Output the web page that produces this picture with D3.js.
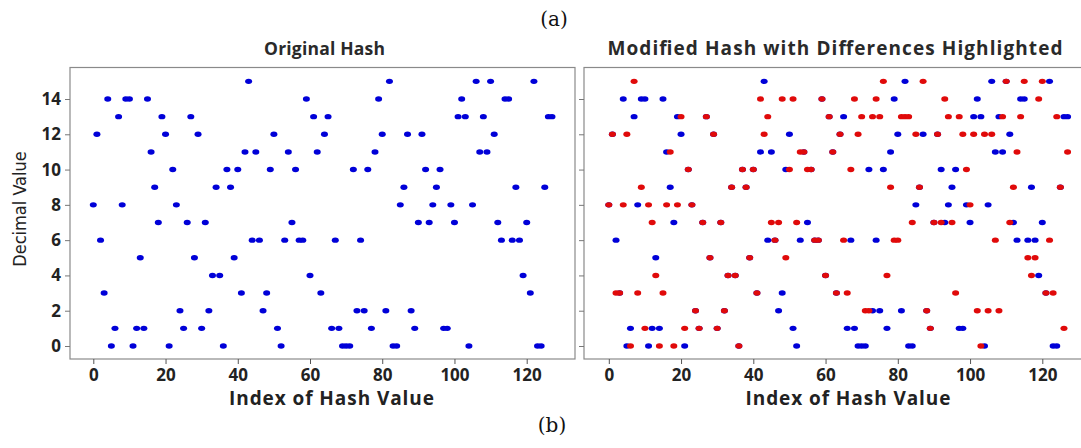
<!DOCTYPE html>
<html><head><meta charset="utf-8">
<script src="https://cdn.jsdelivr.net/npm/d3@7"></script>
<style>
body{margin:0;background:#fff;}
svg{display:block;}
text{font-family:"Open Sans","DejaVu Sans",sans-serif;}
</style></head>
<body>
<svg id="chart" width="1081" height="448"></svg>
<script>
// ---- data ----
const originalHash = [8,12,6,3,14,0,1,13,8,14,14,0,1,5,1,14,11,9,7,13,12,0,10,8,2,1,7,13,5,12,1,7,2,4,9,4,0,10,9,5,10,3,11,15,6,11,6,2,3,10,12,1,0,6,11,7,10,6,6,14,4,13,11,3,12,13,1,6,1,0,0,0,10,2,6,2,10,1,11,14,12,2,15,0,0,8,9,12,2,1,7,12,10,7,8,9,10,1,1,8,7,13,14,13,0,8,15,11,13,11,15,12,7,6,14,14,6,9,6,4,7,3,15,0,0,9,13,13];
const modifiedHash = [8,12,3,3,8,12,0,15,3,9,1,8,7,4,0,3,8,11,0,8,13,1,10,8,2,1,7,13,5,12,1,7,2,4,9,4,0,10,9,5,10,3,14,12,13,7,6,7,14,5,10,14,7,11,11,10,10,6,6,14,4,13,11,3,12,6,3,10,14,12,13,2,2,13,14,13,15,4,9,6,6,13,13,13,7,12,9,15,2,1,7,12,7,14,13,7,3,13,12,10,8,12,2,0,12,2,12,6,2,13,15,7,9,11,13,15,5,4,5,14,15,3,6,3,13,9,1,11];
const xTicks = [0,20,40,60,80,100,120];
const yTicks = [0,2,4,6,8,10,12,14];
const titles = ["Original Hash","Modified Hash with Differences Highlighted"];
const xLabel = "Index of Hash Value";
const yLabel = "Decimal Value";

// ---- drawing ----
const svg = d3.select("#chart");
const BLUE = "#0000d8", RED = "#e00a0a";
const y = d3.scaleLinear().domain([0,14]).range([346,99]);
const plotTop = 67.5, plotBottom = 359;

const panels = [
  {x0:70, x1:575, range:[93.3,526.7], title:titles[0], labels:true, tcx:324.5, tlen:121, tfs:17.5, lcx:331.5,
   series:[{data:originalHash,color:BLUE}]},
  {x0:584, x1:1090, range:[608.8,1042.3], title:titles[1], labels:false, tcx:835, tlen:455, tfs:19, lcx:848,
   series:[{data:originalHash,color:BLUE},{data:modifiedHash,color:RED}]}
];

panels.forEach(p=>{
  const x = d3.scaleLinear().domain([0,120]).range(p.range);
  const g = svg.append("g");
  g.append("rect").attr("x",p.x0).attr("y",plotTop).attr("width",p.x1-p.x0).attr("height",plotBottom-plotTop)
    .attr("fill","none").attr("stroke","#8a8a8a").attr("stroke-width",1.2);
  const ax = g.append("g").attr("transform",`translate(0,${plotBottom})`)
    .call(d3.axisBottom(x).tickValues(xTicks).tickSize(5).tickPadding(5));
  ax.select(".domain").remove();
  ax.selectAll("line").attr("stroke","#555");
  ax.selectAll("text").attr("font-size",17).attr("font-weight","bold").attr("fill","#222")
    .style("font-family","'Open Sans',sans-serif");
  const ay = g.append("g").attr("transform",`translate(${p.x0},0)`)
    .call(d3.axisLeft(y).tickValues(yTicks).tickSize(5).tickPadding(4));
  ay.select(".domain").remove();
  ay.selectAll("line").attr("stroke","#777");
  if(p.labels){
    ay.selectAll("text").attr("font-size",17).attr("font-weight","bold").attr("fill","#222")
      .style("font-family","'Open Sans',sans-serif");
  } else {
    ay.selectAll("text").remove();
  }
  g.append("text").attr("x",p.tcx).attr("y",55).attr("text-anchor","middle")
    .attr("font-size",p.tfs).attr("font-weight","bold").attr("fill","#2a2a2a")
    .attr("textLength",p.tlen).attr("lengthAdjust","spacing").text(p.title);
  g.append("text").attr("x",p.lcx).attr("y",405).attr("text-anchor","middle")
    .attr("font-size",19).attr("font-weight","bold").attr("fill","#222")
    .attr("textLength",205).attr("lengthAdjust","spacing").text(xLabel);
  p.series.forEach(s=>{
    g.append("g").selectAll("ellipse").data(s.data).join("ellipse")
      .attr("cx",(d,i)=>x(i)).attr("cy",d=>y(d))
      .attr("rx",3.5).attr("ry",2.7).attr("fill",s.color);
  });
});

svg.append("text").attr("transform","translate(26,209) rotate(-90)").attr("text-anchor","middle")
  .attr("font-size",18).attr("fill","#222")
  .style("font-family","'Liberation Sans Narrow','DejaVu Sans Condensed',sans-serif")
  .text(yLabel);

svg.append("text").attr("x",554).attr("y",26).attr("text-anchor","middle")
  .attr("font-size",20).attr("fill","#111").style("font-family","'DejaVu Serif','Liberation Serif',serif").text("(a)");
svg.append("text").attr("x",552).attr("y",432).attr("text-anchor","middle")
  .attr("font-size",20).attr("fill","#111").style("font-family","'DejaVu Serif','Liberation Serif',serif").text("(b)");
</script>
</body></html>
